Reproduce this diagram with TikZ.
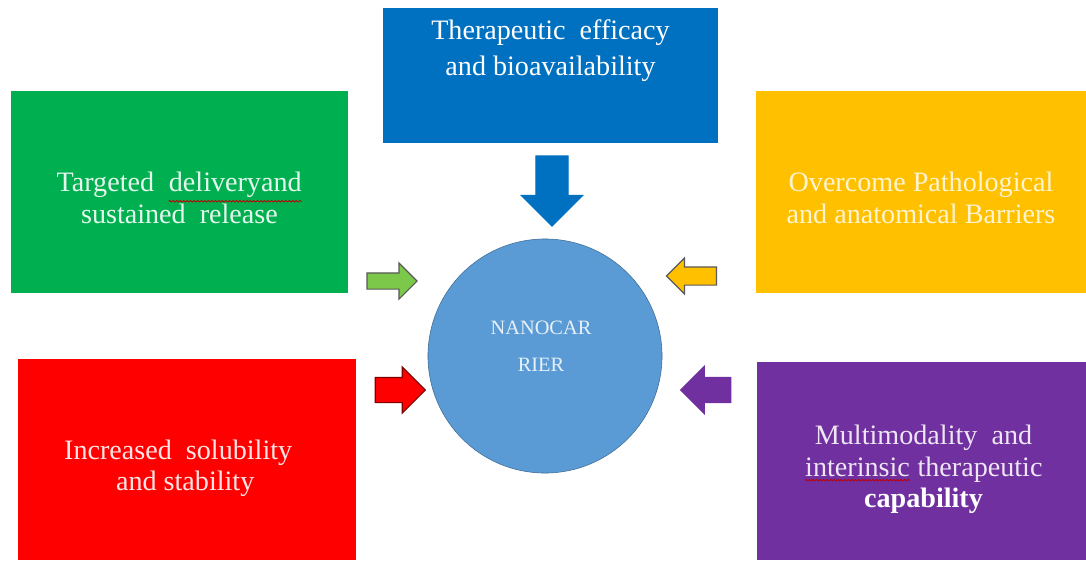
\documentclass[tikz,border=0pt]{standalone}
\usepackage{fontspec}
\setmainfont{Liberation Serif}
\usetikzlibrary{shapes.arrows,decorations.pathmorphing,positioning}

\definecolor{effblue}{HTML}{0070C0}
\definecolor{tgtgreen}{HTML}{00B050}
\definecolor{arrgreen}{HTML}{7CC84A}
\definecolor{barryellow}{HTML}{FFC000}
\definecolor{solred}{HTML}{FF0000}
\definecolor{multipurple}{HTML}{7030A0}
\definecolor{carrierblue}{HTML}{5B9BD5}

% red wavy line under a word
\newcommand{\spellmark}[1]{\tikz[baseline=(sp.base)]{\node[rectangle, inner sep=0pt, minimum width=0pt, minimum height=0pt,
      fill=none, draw=none] (sp) {#1};
    \draw[red!75!black, line width=0.6pt, decorate,
      decoration={snake,amplitude=0.5pt,segment length=2.5pt}]
      ([yshift=-2.5pt]sp.south west) -- ([yshift=-2.5pt]sp.south east);}}

\begin{document}
\begin{tikzpicture}[
    x=0.025cm, y=-0.025cm,
    goalbox/.style={
        rectangle,
        inner sep=0pt},
    boxtext/.style={
        inner sep=0pt,
        align=center,
        font=\fontsize{20}{22.5}\selectfont},
    carrier/.style={
        circle,
        draw=carrierblue!70!black,
        fill=carrierblue,
        minimum size=5.85cm,
        inner sep=0pt},
    carriertext/.style={
        align=center,
        inner sep=0pt,
        text=white!85!carrierblue,
        font=\fontsize{14.5}{26}\selectfont},
    blockarrow/.style={
        single arrow,
        inner sep=0pt,
        text depth=0pt,
        line width=0.8pt,
        single arrow head indent=0pt}
    ]
    \useasboundingbox (0,0) rectangle (1086,560);

    \node[goalbox, fill=effblue, minimum width=8.375cm, minimum height=3.375cm] (effic) at (550.5,75.5) {};
    \node[boxtext, text=white, below=0.3cm of effic.north, font=\fontsize{20}{25.5}\selectfont] (efficlbl)
        {Therapeutic\ \ efficacy\\and bioavailability};

    \node[goalbox, fill=tgtgreen, minimum width=8.425cm, minimum height=5.05cm] (target) at (179.5,192) {};
    \node[boxtext, text=tgtgreen!10!white] (targetlbl) at ([yshift=-0.14cm]target.center)
        {Targeted\ \ \spellmark{deliveryand}\\sustained\ \ release};

    \node[goalbox, fill=barryellow, minimum width=8.25cm, minimum height=5.05cm] (barrier) at (921,192) {};
    \node[boxtext, text=barryellow!18!white] (barrierlbl) at ([yshift=-0.15cm]barrier.center)
        {Overcome Pathological\\and anatomical Barriers};

    \node[goalbox, fill=solred, minimum width=8.45cm, minimum height=5.025cm] (soluble) at (187,459.5) {};
    \node[boxtext, text=solred!10!white] (solublelbl) at ([xshift=-0.22cm,yshift=-0.22cm]soluble.center)
        {Increased\ \ solubility\\\ \ and stability};

    \node[goalbox, fill=multipurple, minimum width=8.225cm, minimum height=4.95cm] (multi) at (921.5,461) {};
    \node[boxtext, text=multipurple!12!white] (multilbl) at ([xshift=0.05cm,yshift=-0.21cm]multi.center)
        {Multimodality\ \ and\\\spellmark{interinsic} therapeutic\\\textcolor{white}{\bfseries capability}};

    \node[carrier] (carrier) at (545,356) {};
    \node[carriertext] (carrierlbl) at ([xshift=-0.1cm,yshift=0.25cm]carrier.center) {NANOCAR\\RIER};

    \foreach \nm/\pos/\ang/\alen/\ashaft/\aext/\col/\bord in {% name/centre/direction/length/shaft width/head extend/fill/border
        arreffic/{552,183}/270/1.75cm/0.775cm/0.3625cm/effblue/effblue,
        arrtarget/{388,281}/0/1.25cm/0.375cm/0.25cm/arrgreen/gray!70!black,
        arrbarrier/{696,276}/180/1.25cm/0.425cm/0.225cm/barryellow/gray!70!black,
        arrsoluble/{394,390}/0/1.25cm/0.6cm/0.2625cm/solred/solred!50!black,
        arrmulti/{712,390}/180/1.25cm/0.6cm/0.275cm/multipurple/multipurple}
        \node[blockarrow, fill=\col, draw=\bord, shape border rotate=\ang,
            minimum height=\alen, text height=\ashaft, text width=\ashaft,
            single arrow head extend=\aext] (\nm) at (\pos) {};
\end{tikzpicture}
\end{document}
